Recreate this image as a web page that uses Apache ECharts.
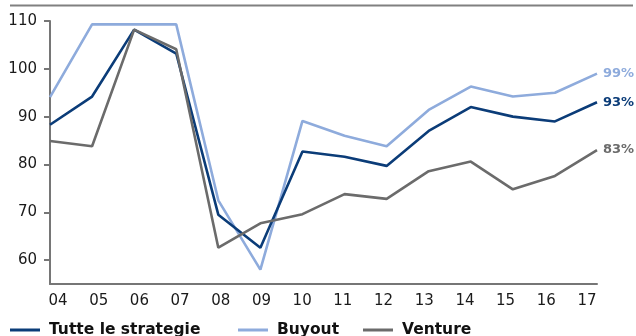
<!DOCTYPE html>
<html>
<head>
<meta charset="utf-8">
<script src="https://cdn.jsdelivr.net/npm/echarts@6/dist/echarts.min.js"></script>
<style>
  html, body { margin: 0; padding: 0; background: #fff; }
  #chart { width: 636px; height: 336px; }
</style>
</head>
<body>
<div id="chart"></div>
<script>
// Years on the x axis
const years = ['04', '05', '06', '07', '08', '09', '10', '11', '12', '13', '14', '15', '16', '17'];

// Index values per strategy
const tutte   = [88.3, 94.2, 108.2, 103.2, 69.5, 62.6, 82.7, 81.6, 79.7, 87.0, 92.0, 90.0, 89.0, 93];
const buyout  = [94.1, 109.3, 109.3, 109.3, 72.5, 58.0, 89.1, 86.0, 83.8, 91.4, 96.3, 94.2, 95.0, 99];
const venture = [84.9, 83.8, 108.2, 104.1, 62.6, 67.7, 69.6, 73.8, 72.8, 78.6, 80.6, 74.8, 77.6, 83];

// Y axis ticks
const yTicks = [60, 70, 80, 90, 100, 110];

const names = ['Tutte le strategie', 'Buyout', 'Venture'];
const colors = ['#0b3c78', '#8eabdc', '#6b6b6b'];

const FONT = 'DejaVu Sans, Verdana, sans-serif';

function lineSeries(i, data) {
  return {
    name: names[i],
    type: 'line',
    data: data,
    xAxisIndex: 0,
    yAxisIndex: 0,
    symbol: 'none',
    lineStyle: { color: colors[i], width: 2.6 },
    itemStyle: { color: colors[i] },
    endLabel: {
      show: true,
      formatter: p => Math.round(p.value) + '%',
      distance: 6,
      color: colors[i],
      fontFamily: FONT,
      fontWeight: 'bold',
      fontSize: 13
    },
    animation: false
  };
}

function legendAt(left, name) {
  return {
    left: left,
    top: 322,
    data: [name],
    icon: 'rect',
    itemWidth: 30,
    itemHeight: 3,
    itemGap: 0,
    textStyle: { fontFamily: FONT, fontWeight: 'bold', fontSize: 15.5, color: '#111', padding: [0, 0, 0, 4] },
    padding: 0
  };
}

const chart = echarts.init(document.getElementById('chart'), null, { renderer: 'canvas' });

chart.setOption({
  animation: false,
  backgroundColor: '#fff',
  grid: [
    { left: 50, right: 39, top: 21, bottom: 52 },
    { left: 58, right: 49, top: 21, bottom: 52 }
  ],
  xAxis: [
    {
      gridIndex: 0,
      type: 'category',
      data: years,
      boundaryGap: false,
      axisLine: { lineStyle: { color: '#767676', width: 2 } },
      axisTick: { show: false },
      axisLabel: { show: false }
    },
    {
      gridIndex: 1,
      type: 'category',
      data: years,
      boundaryGap: false,
      axisLine: { show: false },
      axisTick: { show: false },
      axisLabel: { color: '#1a1a1a', fontFamily: FONT, fontSize: 15, margin: 10 }
    }
  ],
  yAxis: [
    {
      gridIndex: 0,
      type: 'value',
      min: 55,
      max: 110,
      axisLine: { show: true, lineStyle: { color: '#767676', width: 2 } },
      axisTick: { show: true, length: 6, customValues: yTicks, lineStyle: { color: '#767676', width: 2 } },
      axisLabel: { customValues: yTicks, color: '#1a1a1a', fontFamily: FONT, fontSize: 15, margin: 13 },
      splitLine: { show: false }
    },
    {
      gridIndex: 1,
      type: 'value',
      show: false,
      min: 55,
      max: 110
    }
  ],
  legend: [
    legendAt(10, names[0]),
    legendAt(238, names[1]),
    legendAt(363, names[2])
  ],
  graphic: [
    {
      type: 'line',
      shape: { x1: 10, y1: 5.5, x2: 633, y2: 5.5 },
      style: { stroke: '#808080', lineWidth: 2 }
    }
  ],
  series: [
    lineSeries(1, buyout),
    lineSeries(0, tutte),
    lineSeries(2, venture)
  ]
});
</script>
</body>
</html>
